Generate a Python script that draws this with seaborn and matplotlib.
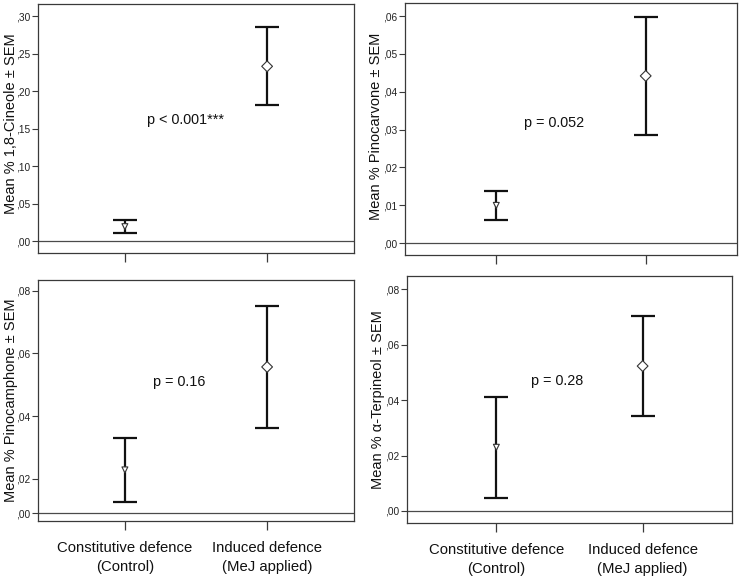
import matplotlib
matplotlib.use("Agg")
import matplotlib.pyplot as plt
import matplotlib.transforms as mtransforms
import seaborn as sns
import pandas as pd

# ---------------- data ----------------
groups = ["Constitutive defence\n(Control)", "Induced defence\n(MeJ applied)"]
group_pos = [0, 1]

cineole_mean = [0.0192, 0.2332]
cineole_sem = [0.0089, 0.0521]

pinocarvone_mean = [0.00996, 0.0442]
pinocarvone_sem = [0.00388, 0.0155]

pinocamphone_mean = [0.0229, 0.0557]
pinocamphone_sem = [0.0103, 0.0195]

terpineol_mean = [0.0230, 0.0523]
terpineol_sem = [0.0182, 0.0182]

ylabels = ["Mean % 1,8-Cineole ± SEM", "Mean % Pinocarvone ± SEM",
           "Mean % Pinocamphone ± SEM", "Mean % α-Terpineol ± SEM"]
pvalues = ["p < 0.001***", "p = 0.052", "p = 0.16", "p = 0.28"]

cineole_ticks = [0.00, 0.05, 0.10, 0.15, 0.20, 0.25, 0.30]
cineole_ticklabels = [",00", ",05", ",10", ",15", ",20", ",25", ",30"]
pinocarvone_ticks = [0.00, 0.01, 0.02, 0.03, 0.04, 0.05, 0.06]
pinocarvone_ticklabels = [",00", ",01", ",02", ",03", ",04", ",05", ",06"]
# the reference draws its ",00" line half a step below ",02"
pinocamphone_ticks = [0.0091, 0.02, 0.04, 0.06, 0.08]
pinocamphone_ticklabels = [",00", ",02", ",04", ",06", ",08"]
terpineol_ticks = [0.00, 0.02, 0.04, 0.06, 0.08]
terpineol_ticklabels = [",00", ",02", ",04", ",06", ",08"]

ref_lines = [0.0, 0.0, 0.0091, 0.0]

# ---------------- style ----------------
sns.set_style("ticks")
plt.rcParams["font.family"] = ["Liberation Sans", "DejaVu Sans"]

W, H = 739, 576
fig = plt.figure(figsize=(W / 100, H / 100), dpi=100)
fig.patch.set_facecolor("white")

# panel boxes in pixels: left, right, top, bottom
boxes = [(38, 354, 4, 253), (405, 737, 3.3, 255),
         (38, 354, 280, 521), (407, 732, 276, 523)]
ylims = [(-0.016, 0.3164), (-0.00317, 0.0634), (0.00661, 0.0834), (-0.00434, 0.0848)]
pval_pos = [(0.467, 0.1615), (0.449, 0.03167), (0.446, 0.0510), (0.462, 0.0469)]
label_x = [-20 / 316, -22 / 332, -20 / 316, -22 / 325]
label_y = [0.52, 0.51, 0.50, 0.50]

means = [cineole_mean, pinocarvone_mean, pinocamphone_mean, terpineol_mean]
sems = [cineole_sem, pinocarvone_sem, pinocamphone_sem, terpineol_sem]
ticks = [cineole_ticks, pinocarvone_ticks, pinocamphone_ticks, terpineol_ticks]
ticklabels = [cineole_ticklabels, pinocarvone_ticklabels,
              pinocamphone_ticklabels, terpineol_ticklabels]

frame_col = "#3a3a3a"
for i in range(4):
    l, r, t, b = boxes[i]
    ax = fig.add_axes([l / W, (H - b) / H, (r - l) / W, (b - t) / H])
    ax.set_facecolor("white")
    df = pd.DataFrame({"pos": group_pos, "mean": means[i], "sem": sems[i],
                       "group": groups})

    ax.axhline(ref_lines[i], color="#4a4a4a", lw=0.9, zorder=1)
    ax.errorbar(df["pos"], df["mean"], yerr=df["sem"], fmt="none",
                ecolor="#111111", elinewidth=1.6, capsize=8.3, capthick=1.6,
                zorder=2)
    sns.scatterplot(data=df, x="pos", y="mean", style="group",
                    markers={groups[0]: "v", groups[1]: "D"},
                    size="group", sizes={groups[0]: 18, groups[1]: 30},
                    facecolor="white", edgecolor="#333333",
                    linewidth=0.8, legend=False, ax=ax, zorder=3)

    ax.set_xlim(-0.611, 1.611)
    ax.set_ylim(*ylims[i])
    ax.set_yticks(ticks[i], ticklabels[i])
    ax.set_xticks(group_pos)
    if i >= 2:
        ax.set_xticklabels(groups, fontsize=10.7, linespacing=1.45)
    else:
        ax.set_xticklabels(["", ""])
    ax.tick_params(axis="x", direction="out", length=6.5, width=0.9,
                   color=frame_col, pad=8, labelcolor="#111111")
    ax.tick_params(axis="y", direction="out", length=4.3, width=0.8,
                   color=frame_col, pad=1, labelsize=7.3, labelcolor="#222222")
    ax.set_xlabel("")
    ax.set_ylabel(ylabels[i], fontsize=10.5, color="#111111")
    ax.yaxis.set_label_coords(label_x[i], label_y[i])
    for sp in ax.spines.values():
        sp.set_visible(True)
        sp.set_color(frame_col)
        sp.set_linewidth(0.9)
    ax.text(pval_pos[i][0], pval_pos[i][1], pvalues[i],
            transform=mtransforms.blended_transform_factory(ax.transAxes, ax.transData),
            ha="center", va="center", fontsize=10.4, color="#111111")

fig.savefig("out.png", dpi=100, facecolor="white")
